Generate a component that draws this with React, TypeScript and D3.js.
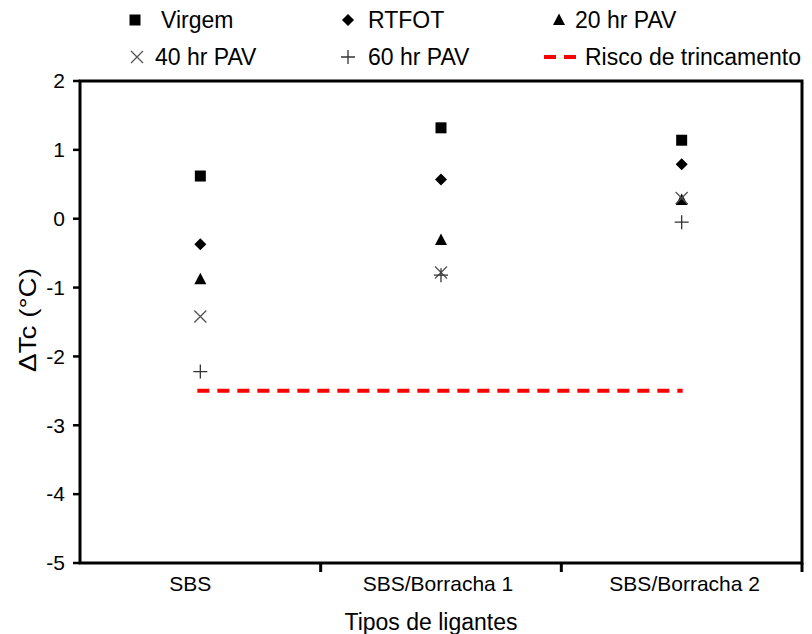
import React from "react";
import * as d3 from "d3";

const categories = ["SBS", "SBS/Borracha 1", "SBS/Borracha 2"];
const virgem = [0.62, 1.32, 1.14];
const rtfot = [-0.37, 0.57, 0.79];
const pav20 = [-0.88, -0.31, 0.27];
const pav40 = [-1.42, -0.78, 0.3];
const pav60 = [-2.22, -0.82, -0.05];
const riscoTrincamento = -2.5;
const yTicks = [2, 1, 0, -1, -2, -3, -4, -5];

const W = 812;
const H = 634;
const left = 80;
const right = 802;
const top = 81;
const bottom = 563;
const font = "Liberation Sans, Arial, sans-serif";

type Shape = "square" | "diamond" | "triangle" | "x" | "plus";

function Marker({ shape, x, y }: { shape: Shape; x: number; y: number }) {
  if (shape === "square") return <rect x={x - 5.5} y={y - 5.5} width={11} height={11} fill="#000" />;
  if (shape === "diamond")
    return <path d={`M${x},${y - 6}L${x + 6},${y}L${x},${y + 6}L${x - 6},${y}Z`} fill="#000" />;
  if (shape === "triangle")
    return <path d={`M${x},${y - 6.5}L${x + 6},${y + 5}L${x - 6},${y + 5}Z`} fill="#000" />;
  if (shape === "x")
    return (
      <path
        d={`M${x - 6},${y - 6}L${x + 6},${y + 6}M${x - 6},${y + 6}L${x + 6},${y - 6}`}
        stroke="#555"
        strokeWidth={1.3}
      />
    );
  return (
    <path d={`M${x - 7},${y}L${x + 7},${y}M${x},${y - 7}L${x},${y + 7}`} stroke="#333" strokeWidth={1.3} />
  );
}

export default function App() {
  const x = d3.scaleBand<string>().domain(categories).range([left, right]);
  const y = d3.scaleLinear().domain([-5, 2]).range([bottom, top]);
  const cx = (c: string) => (x(c) as number) + x.bandwidth() / 2;

  const series: { name: string; values: number[]; shape: Shape }[] = [
    { name: "Virgem", values: virgem, shape: "square" },
    { name: "RTFOT", values: rtfot, shape: "diamond" },
    { name: "20 hr PAV", values: pav20, shape: "triangle" },
    { name: "40 hr PAV", values: pav40, shape: "x" },
    { name: "60 hr PAV", values: pav60, shape: "plus" },
  ];

  const legend: { label: string; shape: Shape | "dash"; mx: number; tx: number; ty: number }[] = [
    { label: "Virgem", shape: "square", mx: 135, tx: 161, ty: 20 },
    { label: "RTFOT", shape: "diamond", mx: 348, tx: 368, ty: 20 },
    { label: "20 hr PAV", shape: "triangle", mx: 559, tx: 575, ty: 20 },
    { label: "40 hr PAV", shape: "x", mx: 137, tx: 155, ty: 57 },
    { label: "60 hr PAV", shape: "plus", mx: 348, tx: 368, ty: 57 },
    { label: "Risco de trincamento", shape: "dash", mx: 559, tx: 585, ty: 57 },
  ];

  // small horizontal nudges for the category labels
  const labelShift = [-10, -3, 3];

  const boundaries = categories.slice(1).map((c) => x(c) as number).concat([right]);

  return (
    <svg width={W} height={H} style={{ position: "absolute", left: 0, top: 0 }} fontFamily={font}>
      <rect width={W} height={H} fill="#fff" />
      {/* frame */}
      <rect x={left} y={top} width={right - left} height={bottom - top} fill="none" stroke="#000" strokeWidth={3} />
      {/* y ticks */}
      {yTicks.map((t) => (
        <g key={t}>
          <line x1={left - 7} x2={left} y1={y(t)} y2={y(t)} stroke="#000" strokeWidth={2.5} />
          <text x={65} y={y(t)} dy="0.35em" textAnchor="end" fontSize={21} fill="#000">
            {t}
          </text>
        </g>
      ))}
      {/* x ticks at category boundaries */}
      {boundaries.map((b, i) => (
        <line key={i} x1={b} x2={b} y1={bottom} y2={bottom + 9} stroke="#000" strokeWidth={3} />
      ))}
      {categories.map((c, i) => (
        <text key={c} x={cx(c) + labelShift[i]} y={584} dy="0.35em" textAnchor="middle" fontSize={21} fill="#000">
          {c}
        </text>
      ))}
      <text x={431} y={622} dy="0.35em" textAnchor="middle" fontSize={23} fill="#000">
        Tipos de ligantes
      </text>
      <text
        transform={`translate(28,${320}) rotate(-90)`}
        textAnchor="middle"
        dy="0.35em"
        fontSize={24}
        textLength={104}
        lengthAdjust="spacingAndGlyphs"
        fill="#000"
      >
        ΔTc (°C)
      </text>
      {/* risk threshold */}
      <line
        x1={cx(categories[0]) - 3}
        x2={cx(categories[categories.length - 1]) + 1}
        y1={y(riscoTrincamento)}
        y2={y(riscoTrincamento)}
        stroke="#f00"
        strokeWidth={4}
        strokeDasharray="12 8"
      />
      {/* data points */}
      {series.map((s) =>
        s.values.map((v, i) => <Marker key={s.name + i} shape={s.shape} x={cx(categories[i])} y={y(v)} />)
      )}
      {/* legend */}
      {legend.map((l) => (
        <g key={l.label}>
          {l.shape === "dash" ? (
            <line x1={544} x2={576} y1={l.ty} y2={l.ty} stroke="#f00" strokeWidth={4} strokeDasharray="12 8" />
          ) : (
            <Marker shape={l.shape} x={l.mx} y={l.ty} />
          )}
          <text x={l.tx} y={l.ty} dy="0.35em" fontSize={23} fill="#000">
            {l.label}
          </text>
        </g>
      ))}
    </svg>
  );
}
